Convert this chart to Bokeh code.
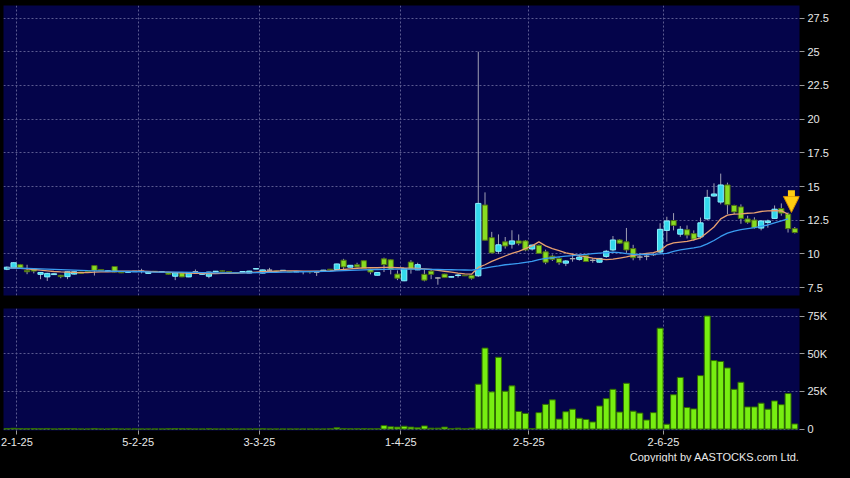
from bokeh.plotting import figure
from bokeh.models import Range1d, FixedTicker, ColumnDataSource, Arrow, NormalHead, Title
from bokeh.layouts import column
from bokeh.embed import file_html
from bokeh.resources import INLINE

# ---------------- data ----------------
x_tick_idx = [2, 20, 38, 59, 78, 98]
x_tick_labels = ["2-1-25", "5-2-25", "3-3-25", "1-4-25", "2-5-25", "2-6-25"]

price_ticks = [7.5, 10, 12.5, 15, 17.5, 20, 22.5, 25, 27.5]
price_tick_labels = ["7.5", "10", "12.5", "15", "17.5", "20", "22.5", "25", "27.5"]

vol_ticks = [0, 25000, 50000, 75000]
vol_tick_labels = ["0", "25K", "50K", "75K"]

open_ = [8.87, 8.97, 9.21, 8.78, 8.92, 8.49, 8.30, 8.47, 8.42, 8.32,
         8.51, 8.66, 8.75, 9.14, 8.85, 8.70, 9.07, 8.66, 8.64, 8.68,
         8.73, 8.56, 8.72, 8.68, 8.60, 8.35, 8.60, 8.30, 8.70, 8.49,
         8.35, 8.68, 8.75, 8.70, 8.60, 8.66, 8.59, 8.88, 8.58, 8.80,
         8.74, 8.77, 8.70, 8.67, 8.70, 8.70, 8.65, 8.75, 8.87, 8.85,
         9.54, 9.02, 9.20, 9.50, 8.87, 8.42, 9.64, 9.57, 8.51, 8.01,
         9.40, 8.82, 8.49, 8.73, 8.22, 8.51, 8.28, 8.40, 8.42, 8.42,
         8.38, 13.63, 11.21, 10.20, 10.90, 10.73, 10.97, 10.97, 10.37, 10.64,
         10.16, 9.84, 9.67, 9.32, 9.65, 9.60, 9.87, 9.53, 9.39, 9.82,
         10.30, 11.04, 10.90, 10.40, 9.77, 9.83, 9.95, 10.14, 11.75, 12.48,
         11.47, 11.80, 11.51, 11.27, 12.60, 14.30, 13.85, 15.12, 13.60, 13.49,
         12.60, 12.52, 11.92, 12.33, 12.64, 13.37, 12.96, 11.88]
high = [9.07, 9.38, 9.26, 9.20, 8.95, 8.66, 8.60, 8.56, 8.45, 8.70,
        8.70, 8.68, 8.78, 9.16, 8.87, 8.78, 9.10, 8.68, 8.70, 8.74,
        8.90, 8.68, 8.74, 8.72, 8.62, 8.66, 8.62, 8.66, 8.85, 8.62,
        8.68, 8.74, 8.78, 8.72, 8.62, 8.72, 8.75, 8.94, 8.84, 8.97,
        8.76, 8.80, 8.72, 8.72, 8.73, 8.72, 8.68, 8.82, 8.89, 9.28,
        9.64, 9.18, 9.35, 9.52, 8.90, 8.66, 9.73, 9.60, 8.78, 8.95,
        9.54, 9.35, 8.85, 8.82, 8.27, 8.53, 8.34, 8.54, 8.44, 8.45,
        25.0, 14.57, 11.64, 11.45, 11.26, 11.76, 11.45, 11.04, 10.70, 10.70,
        10.32, 9.96, 9.77, 9.55, 9.96, 9.96, 9.96, 9.68, 9.70, 10.30,
        11.33, 11.10, 11.93, 10.68, 10.08, 10.07, 10.05, 12.28, 12.76, 13.03,
        12.07, 12.12, 11.75, 12.70, 14.76, 15.24, 15.96, 15.29, 13.65, 13.68,
        12.84, 12.72, 12.50, 12.55, 13.60, 13.75, 13.08, 12.00]
low = [8.80, 8.95, 8.95, 8.50, 8.56, 8.13, 8.00, 8.44, 8.20, 8.13,
       8.47, 8.54, 8.68, 8.40, 8.75, 8.68, 8.64, 8.58, 8.60, 8.66,
       8.56, 8.54, 8.66, 8.66, 8.47, 8.06, 8.28, 8.28, 8.56, 8.47,
       8.20, 8.66, 8.70, 8.64, 8.54, 8.64, 8.57, 8.86, 8.56, 8.68,
       8.70, 8.75, 8.65, 8.65, 8.49, 8.54, 8.37, 8.73, 8.80, 8.83,
       8.78, 9.00, 9.02, 8.90, 8.49, 8.40, 8.66, 8.49, 8.06, 7.98,
       8.54, 8.80, 7.97, 8.13, 7.72, 8.23, 8.26, 8.25, 8.36, 8.10,
       8.30, 11.00, 10.05, 10.00, 10.40, 10.40, 10.64, 10.20, 10.25, 10.00,
       9.24, 9.48, 9.20, 9.10, 9.43, 9.50, 9.40, 9.35, 9.35, 9.72,
       10.20, 10.75, 10.08, 9.53, 9.53, 9.54, 9.85, 10.05, 10.91, 11.75,
       11.27, 11.15, 10.98, 11.15, 12.50, 14.25, 13.68, 12.96, 12.96, 12.24,
       12.24, 11.88, 11.75, 11.95, 12.60, 12.84, 11.59, 11.52]
close = [9.02, 9.35, 8.97, 8.68, 8.73, 8.63, 8.56, 8.53, 8.32, 8.68,
         8.68, 8.56, 8.70, 8.78, 8.78, 8.75, 8.66, 8.60, 8.68, 8.72,
         8.73, 8.66, 8.68, 8.70, 8.49, 8.63, 8.30, 8.63, 8.70, 8.60,
         8.66, 8.72, 8.72, 8.66, 8.56, 8.70, 8.73, 8.92, 8.82, 8.80,
         8.72, 8.79, 8.67, 8.70, 8.70, 8.67, 8.65, 8.80, 8.83, 9.26,
         9.04, 9.16, 9.04, 8.92, 8.66, 8.63, 9.21, 8.85, 8.20, 8.92,
         8.87, 9.21, 8.06, 8.49, 8.22, 8.25, 8.32, 8.44, 8.38, 8.20,
         13.75, 11.02, 10.08, 10.68, 10.59, 10.97, 10.80, 10.30, 10.66, 10.04,
         9.39, 9.60, 9.36, 9.48, 9.65, 9.77, 9.44, 9.53, 9.67, 10.20,
         11.04, 10.80, 10.30, 9.72, 9.77, 9.83, 9.95, 11.83, 12.45, 12.12,
         11.83, 11.40, 11.10, 12.31, 14.20, 14.45, 15.12, 13.65, 13.12, 12.64,
         12.36, 11.95, 12.45, 12.45, 13.32, 13.03, 11.88, 11.59]

volume = [300, 500, 300, 200, 300, 200, 400, 100, 200, 300,
          200, 100, 100, 400, 100, 100, 300, 100, 100, 100,
          100, 100, 100, 100, 200, 300, 200, 200, 100, 100,
          200, 100, 100, 100, 100, 100, 100, 100, 200, 100,
          100, 100, 100, 100, 100, 100, 100, 100, 200, 900,
          400, 200, 200, 300, 200, 200, 2300, 1500, 1300, 1900,
          1300, 900, 2100, 600, 600, 1300, 400, 600, 200, 600,
          29800, 53800, 24700, 47700, 25100, 28700, 11700, 10400, 400, 10900,
          16400, 19400, 6600, 11500, 13200, 7200, 6400, 4700, 15300, 20200,
          26400, 11300, 30400, 11900, 10600, 6000, 10900, 67000, 3200, 22800,
          34300, 14300, 13400, 35500, 75100, 45500, 44900, 40600, 26400, 31100,
          14700, 14700, 17200, 13200, 18700, 16200, 23600, 3400]

nan = float("nan")
ma_short = [8.95, 8.95, 8.93, 8.90, 8.85, 8.80, 8.75, 8.70, 8.67, 8.65,
            8.63, 8.62, 8.62, 8.65, 8.67, 8.68, 8.70, 8.72, 8.72, 8.72,
            8.72, 8.70, 8.68, 8.66, 8.65, 8.62, 8.60, 8.58, 8.57, 8.56,
            8.55, 8.55, 8.56, 8.57, 8.58, 8.60, 8.62, 8.65, 8.68, 8.70,
            8.72, 8.74, 8.74, 8.74, 8.73, 8.72, 8.72, 8.73, 8.75, 8.80,
            8.85, 8.90, 8.94, 8.97, 8.98, 8.98, 9.00, 9.00, 8.98, 8.96,
            8.95, 8.93, 8.90, 8.85, 8.78, 8.72, 8.65, 8.58, 8.52, 8.50,
            9.00, 9.20, 9.45, 9.65, 9.85, 10.05, 10.20, 10.40, 10.60, 10.90,
            10.60, 10.40, 10.25, 10.08, 9.98, 9.88, 9.78, 9.70, 9.63, 9.58,
            9.62, 9.70, 9.78, 9.90, 9.96, 10.05, 10.10, 10.25, 10.65, 10.82,
            10.88, 10.94, 11.05, 11.20, 11.60, 12.00, 12.60, 12.88, 12.95, 12.98,
            13.02, 13.05, 13.15, 13.20, 13.22, 13.20, 12.96, nan]
ma_long = [8.95, 8.95, 8.94, 8.93, 8.92, 8.90, 8.88, 8.86, 8.84, 8.82,
           8.80, 8.78, 8.76, 8.75, 8.74, 8.73, 8.72, 8.71, 8.70, 8.69,
           8.68, 8.67, 8.66, 8.66, 8.66, 8.65, 8.65, 8.64, 8.63, 8.62,
           8.61, 8.60, 8.60, 8.60, 8.60, 8.60, 8.60, 8.61, 8.62, 8.63,
           8.64, 8.65, 8.66, 8.67, 8.68, 8.69, 8.70, 8.71, 8.72, 8.74,
           8.76, 8.78, 8.80, 8.82, 8.84, 8.85, 8.86, 8.87, 8.88, 8.88,
           8.88, 8.88, 8.87, 8.86, 8.85, 8.84, 8.83, 8.82, 8.81, 8.80,
           8.86, 8.95, 9.05, 9.12, 9.20, 9.25, 9.30, 9.38, 9.45, 9.58,
           9.67, 9.72, 9.78, 9.84, 9.88, 9.93, 9.97, 10.02, 10.06, 10.10,
           10.14, 10.10, 10.02, 9.98, 9.96, 9.96, 9.97, 10.00, 10.05, 10.20,
           10.30, 10.38, 10.45, 10.55, 10.75, 11.00, 11.30, 11.55, 11.70, 11.80,
           11.88, 11.95, 12.05, 12.15, 12.30, 12.45, 12.60, nan]

signal_idx = 116  # candle marked with the yellow arrow

# ---------------- styles ----------------
FONT = "Liberation Sans"
NAVY = "#04044a"
GRID = "#5a5a90"
UP_FILL, UP_LINE = "#33d8ec", "#8cf2ff"
DN_FILL, DN_LINE = "#88dc22", "#4f6f14"
DOJI = "#b0b0b0"

n = len(close)
xs = [i + 0.5 for i in range(n)]
fills, lines = [], []
for o, c in zip(open_, close):
    if c > o:
        fills.append(UP_FILL); lines.append(UP_LINE)
    elif c < o:
        fills.append(DN_FILL); lines.append(DN_LINE)
    else:
        fills.append(DOJI); lines.append(DOJI)

src = ColumnDataSource(dict(
    x=xs, open=open_, high=high, low=low, close=close,
    top=[max(o, c) for o, c in zip(open_, close)],
    bottom=[min(o, c) for o, c in zip(open_, close)],
    fill=fills, line=lines, vol=volume,
    ma_s=ma_short, ma_l=ma_long))

x_range = Range1d(0, 118.2)


def style_axis(ax):
    ax.axis_line_color = None
    ax.major_tick_line_color = "#9a9a9a"
    ax.major_tick_in = 0
    ax.major_tick_out = 5
    ax.minor_tick_line_color = None
    ax.major_label_text_color = "#e8e8e8"
    ax.major_label_text_font = FONT
    ax.major_label_text_font_size = "11px"
    ax.major_label_standoff = 3


def style_grid(g):
    g.grid_line_color = GRID
    g.grid_line_dash = "2 2"
    g.grid_line_width = 1


# ---------------- price panel ----------------
p1 = figure(frame_width=796, frame_height=290, x_range=x_range,
            y_range=Range1d(6.92, 28.43), y_axis_location="right",
            toolbar_location=None, output_backend="svg",
            background_fill_color=NAVY, border_fill_color="black",
            outline_line_color=None, min_border_left=3, min_border_right=35,
            min_border_top=5, min_border_bottom=6)
p1.yaxis.ticker = FixedTicker(ticks=price_ticks)
p1.yaxis.major_label_overrides = {t: l for t, l in zip(price_ticks, price_tick_labels)}
p1.xaxis.ticker = FixedTicker(ticks=x_tick_idx)
p1.xaxis.visible = False
style_axis(p1.yaxis[0])
style_grid(p1.xgrid[0])
style_grid(p1.ygrid[0])

p1.segment(x0="x", y0="low", x1="x", y1="high", source=src,
           line_color="#a0a0b4", line_width=1)
p1.vbar(x="x", top="top", bottom="bottom", width=0.78, source=src,
        fill_color="fill", line_color="line", line_width=1)
p1.line(x="x", y="ma_s", source=src, line_color="#e8a070", line_width=1.3)
p1.line(x="x", y="ma_l", source=src, line_color="#3a9cf0", line_width=1.3)

ax_x = xs[signal_idx] + 0.5
p1.add_layout(Arrow(end=NormalHead(size=16, fill_color="#ffcc11", line_color="#d08a00"),
                    x_start=ax_x, y_start=high[signal_idx] + 1.65,
                    x_end=ax_x, y_end=high[signal_idx],
                    line_color="#ffcc11", line_width=7))

# ---------------- volume panel ----------------
p2 = figure(frame_width=796, frame_height=122, x_range=x_range,
            y_range=Range1d(-960, 80100), y_axis_location="right",
            toolbar_location=None, output_backend="svg",
            background_fill_color=NAVY, border_fill_color="black",
            outline_line_color=None, min_border_left=3, min_border_right=35,
            min_border_top=7, min_border_bottom=0)
p2.yaxis.ticker = FixedTicker(ticks=vol_ticks)
p2.yaxis.major_label_overrides = {t: l for t, l in zip(vol_ticks, vol_tick_labels)}
p2.xaxis.ticker = FixedTicker(ticks=x_tick_idx)
p2.xaxis.major_label_overrides = {t: l for t, l in zip(x_tick_idx, x_tick_labels)}
style_axis(p2.yaxis[0])
style_axis(p2.xaxis[0])
p2.xaxis.major_tick_out = 4
p2.xaxis.major_label_standoff = 3
style_grid(p2.xgrid[0])
style_grid(p2.ygrid[0])

p2.vbar(x="x", top="vol", bottom=0, width=0.88, source=src,
        fill_color="#77ee11", line_color="#2f6a00", line_width=1)

p2.add_layout(Title(text="Copyright by AASTOCKS.com Ltd.", align="right",
                    text_color="#e8e8e8", text_font=FONT, text_font_size="11px",
                    text_font_style="normal", standoff=0, offset=0), "below")

layout = column(p1, p2, spacing=0)
layout.styles = {"background-color": "black"}

html = file_html(layout, INLINE)
html = html.replace("<head>", "<head><style>html,body{background:#000;}</style>", 1)
open("out.html", "w").write(html)
